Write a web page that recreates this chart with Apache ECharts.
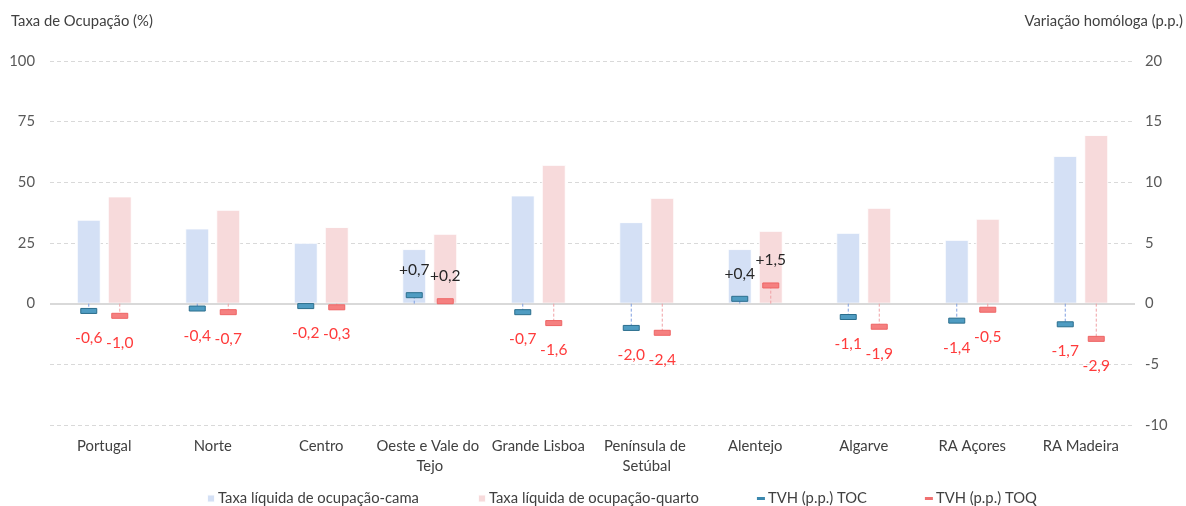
<!DOCTYPE html>
<html>
<head>
<meta charset="utf-8">
<script src="https://cdn.jsdelivr.net/npm/echarts@6/dist/echarts.min.js"></script>
<style>
  html, body { margin: 0; padding: 0; background: #fff; }
  #chart { width: 1186px; height: 506px; }
</style>
</head>
<body>
<div id="chart"></div>
<script>
// Regions
const categories = ['Portugal', 'Norte', 'Centro', 'Oeste e Vale do Tejo', 'Grande Lisboa',
  'Península de Setúbal', 'Alentejo', 'Algarve', 'RA Açores', 'RA Madeira'];

// Net occupancy rates (%)
const taxaCama   = [34.6, 31.0, 25.1, 22.5, 44.6, 33.6, 22.5, 29.2, 26.3, 60.9];
const taxaQuarto = [44.2, 38.7, 31.6, 28.8, 57.2, 43.6, 30.0, 39.5, 35.0, 69.5];

// Year-on-year change (p.p.)
const tvhToc = [-0.6, -0.4, -0.2, 0.7, -0.7, -2.0, 0.4, -1.1, -1.4, -1.7];
const tvhToq = [-1.0, -0.7, -0.3, 0.2, -1.6, -2.4, 1.5, -1.9, -0.5, -2.9];

// Axis ticks
const leftTicks  = { min: -50, max: 100, interval: 25 };
const rightTicks = { min: -10, max: 20, interval: 5 };

const FONT = 'Lato, "Open Sans", sans-serif';
const FS = 14.8;
const BAR_WIDTH = 24;
const BAR_GAP_PX = 7;
const OFFSET = (BAR_WIDTH + BAR_GAP_PX) / 2;

function fmt(v) {
  const s = Math.abs(v).toFixed(1).replace('.', ',');
  return (v > 0 ? '+' : v < 0 ? '-' : '') + s;
}

function tvhRenderer(dx, fill, stroke, dashColor) {
  return function (params, api) {
    const idx = api.value(0);
    const v = api.value(1);
    const p = api.coord([idx, v]);
    const z = api.coord([idx, 0]);
    const x = p[0] + dx;
    return {
      type: 'group',
      children: [
        { type: 'line', shape: { x1: x, y1: z[1], x2: x, y2: p[1] },
          style: { stroke: dashColor, lineWidth: 1, lineDash: [3, 2] } },
        { type: 'rect', shape: { x: x - 8, y: p[1] - 2.5, width: 16, height: 5 },
          style: { fill: fill, stroke: stroke, lineWidth: 1 } },
        { type: 'text',
          style: { text: fmt(v), x: x, y: v < 0 ? p[1] + 27 : p[1] - 25,
                   align: 'center', verticalAlign: 'middle',
                   fill: v < 0 ? '#ff3b3b' : '#262626',
                   fontSize: 15.5, fontFamily: FONT } }
      ]
    };
  };
}

const chart = echarts.init(document.getElementById('chart'));
chart.setOption({
  animation: false,
  textStyle: { fontFamily: FONT },
  title: [
    { text: 'Taxa de Ocupação (%)', left: 11, top: 14, padding: 0,
      textStyle: { fontSize: FS, fontWeight: 'normal', color: '#404040', fontFamily: FONT } },
    { text: 'Variação homóloga (p.p.)', right: 3, top: 14, padding: 0,
      textStyle: { fontSize: FS, fontWeight: 'normal', color: '#404040', fontFamily: FONT } }
  ],
  grid: { left: 50, right: 51, top: 61, bottom: 81 },
  legend: {
    left: 201, top: 486,
    itemGap: 58, itemWidth: 8, itemHeight: 8,
    textStyle: { fontSize: FS, color: '#404040', fontFamily: FONT, padding: [0, 0, 0, -2] },
    data: [
      { name: 'Taxa líquida de ocupação-cama', icon: 'rect' },
      { name: 'Taxa líquida de ocupação-quarto', icon: 'rect' },
      { name: 'TVH (p.p.) TOC', icon: 'path://M0,0H8V3H0Z' },
      { name: 'TVH (p.p.) TOQ', icon: 'path://M0,0H8V3H0Z' }
    ]
  },
  xAxis: {
    type: 'category',
    data: categories,
    axisLine: { show: false },
    axisTick: { show: false },
    axisLabel: {
      interval: 0, margin: 11, fontSize: FS, color: '#404040', lineHeight: 20,
      width: 108, overflow: 'break', fontFamily: FONT
    }
  },
  yAxis: [
    {
      type: 'value', ...leftTicks,
      axisLine: { show: false }, axisTick: { show: false },
      axisLabel: { margin: 15, fontSize: FS, color: '#595959', fontFamily: FONT,
                   formatter: v => (v >= 0 ? String(v) : '') },
      splitLine: { lineStyle: { color: '#d9d9d9', type: [4, 3], width: 1 } }
    },
    {
      type: 'value', ...rightTicks,
      axisLine: { show: false }, axisTick: { show: false },
      axisLabel: { margin: 10, fontSize: FS, color: '#595959', fontFamily: FONT },
      splitLine: { show: false }
    }
  ],
  series: [
    {
      name: 'Taxa líquida de ocupação-cama', type: 'bar', yAxisIndex: 0,
      data: taxaCama, barWidth: BAR_WIDTH, barGap: (BAR_GAP_PX / BAR_WIDTH * 100) + '%',
      itemStyle: { color: '#d4e0f5', borderColor: 'rgba(255,255,255,0.9)', borderWidth: 1 },
      markLine: {
        silent: true, symbol: 'none', label: { show: false },
        lineStyle: { color: '#d9d9d9', type: 'solid', width: 2 },
        data: [{ yAxis: 0 }]
      }
    },
    {
      name: 'Taxa líquida de ocupação-quarto', type: 'bar', yAxisIndex: 0,
      data: taxaQuarto, barWidth: BAR_WIDTH,
      itemStyle: { color: '#f7dadb', borderColor: 'rgba(255,255,255,0.9)', borderWidth: 1 }
    },
    {
      name: 'TVH (p.p.) TOC', type: 'custom', yAxisIndex: 1, z: 5,
      itemStyle: { color: '#3a87ad' },
      encode: { x: 0, y: 1 },
      data: tvhToc.map((v, i) => [i, v]),
      renderItem: tvhRenderer(-OFFSET, '#4f9cc2', '#2b6e8d', '#7f9fe0')
    },
    {
      name: 'TVH (p.p.) TOQ', type: 'custom', yAxisIndex: 1, z: 5,
      itemStyle: { color: '#f07070' },
      encode: { x: 0, y: 1 },
      data: tvhToq.map((v, i) => [i, v]),
      renderItem: tvhRenderer(OFFSET, '#f58080', '#ee6464', '#f0a0a4')
    }
  ]
});
</script>
</body>
</html>
